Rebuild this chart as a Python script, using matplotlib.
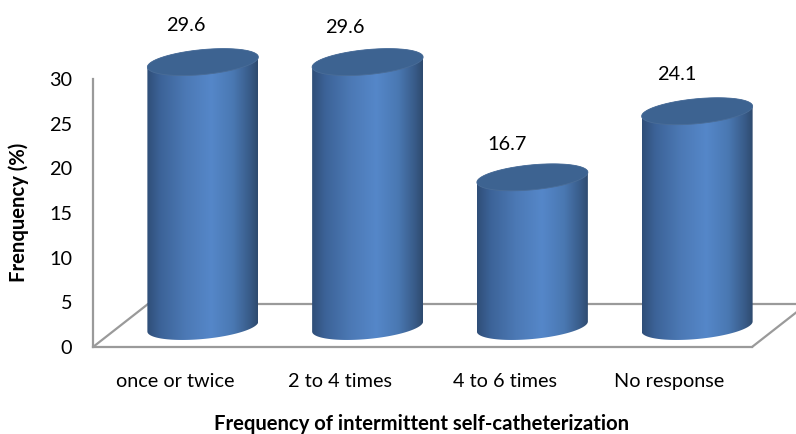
import numpy as np
import matplotlib
matplotlib.use("Agg")
import matplotlib.pyplot as plt
from matplotlib.colors import LinearSegmentedColormap
from matplotlib.patches import Polygon

categories = ["once or twice", "2 to 4 times", "4 to 6 times", "No response"]
frequency = [29.6, 29.6, 16.7, 24.1]
y_ticks = [0, 5, 10, 15, 20, 25, 30]

# Label nudges in pixels relative to each bar's category slot and value
label_nudge_x = [10, 5, 2, 7]
label_nudge_y = [57, 55, 53, 57]

W, H = 796, 434
LEFT, RIGHT, BOTTOM, TOP = 93, 752, 347, 79
GREY = "#9a9a9a"
FONT = "Lato"
TEXT_SIZE = 14.3
TITLE_SIZE = 14.6

fig = plt.figure(figsize=(W / 100, H / 100), dpi=100)
ax = fig.add_axes([LEFT / W, 1 - BOTTOM / H, (RIGHT - LEFT) / W, (BOTTOM - TOP) / H])

px_x = (RIGHT - LEFT) / 4          # pixels per category
px_y = (BOTTOM - TOP) / 30         # pixels per percent

# Oblique floor depth, in data units
depth_x = 55 / px_x
depth_y = 43 / px_y
half_w = 55.5 / px_x
tilt = 5 / px_y
minor = 12.5 / px_y

x_left, x_right = -0.5, 3.5
for xs, ys in [
    ([x_left, x_left + depth_x], [0, depth_y]),
    ([x_right, x_right + depth_x], [0, depth_y]),
    ([x_left + depth_x, x_right + depth_x], [depth_y, depth_y]),
]:
    ax.plot(xs, ys, color=GREY, lw=1.6, clip_on=False, zorder=1, solid_capstyle="round")

cylinder = LinearSegmentedColormap.from_list(
    "cylinder",
    [(0.0, "#2f4e78"), (0.12, "#3c6398"), (0.35, "#4c79b5"),
     (0.58, "#5587c9"), (0.78, "#4a78b2"), (0.93, "#385b88"), (1.0, "#2e4a6e")],
)
shade = np.linspace(0, 1, 256).reshape(1, -1)
t = np.linspace(0, np.pi, 80)

for i, value in enumerate(frequency):
    cx = i + depth_x / 2
    base = depth_y / 2 - 1 / px_y
    top = base + value

    # Side wall: upper arc along the top rim, lower arc along the base rim
    top_arc_x = cx + half_w * np.cos(t)
    top_arc_y = top + tilt * np.cos(t) + minor * np.sin(t)
    low_arc_x = cx + half_w * np.cos(t + np.pi)
    low_arc_y = base + tilt * np.cos(t + np.pi) + minor * np.sin(t + np.pi)
    outline = np.column_stack([np.r_[top_arc_x, low_arc_x], np.r_[top_arc_y, low_arc_y]])
    body = Polygon(outline, closed=True, transform=ax.transData, fc="none", ec="none")
    ax.add_patch(body)
    im = ax.imshow(shade, cmap=cylinder, aspect="auto", zorder=2,
                   extent=(cx - half_w, cx + half_w, base - 3, top + 3))
    im.set_clip_box(fig.bbox)
    im.set_clip_path(body)

    # Top face of the cylinder
    tt = np.linspace(0, 2 * np.pi, 160)
    cap = np.column_stack([cx + half_w * np.cos(tt),
                           top + tilt * np.cos(tt) + minor * np.sin(tt)])
    ax.add_patch(Polygon(cap, closed=True, fc="#3d6391", ec="#4a6d98", lw=0.6,
                         zorder=3, clip_on=False))

    ax.annotate(f"{value:.1f}", xy=(i, value),
                xytext=(label_nudge_x[i] * 0.72, label_nudge_y[i] * 0.72),
                textcoords="offset points", ha="center", va="center",
                fontsize=TEXT_SIZE, family=FONT, color="black", annotation_clip=False, zorder=5)

ax.set_xlim(x_left, x_right)
ax.set_ylim(0, 30)
ax.set_xticks(range(len(categories)), categories)
ax.set_yticks(y_ticks)
ax.tick_params(axis="both", length=0, labelsize=TEXT_SIZE, labelcolor="black")
ax.tick_params(axis="x", pad=19)
ax.tick_params(axis="y", pad=15)
for label in ax.get_xticklabels() + ax.get_yticklabels():
    label.set_family(FONT)

for side in ("top", "right"):
    ax.spines[side].set_visible(False)
for side in ("left", "bottom"):
    ax.spines[side].set_color(GREY)
    ax.spines[side].set_linewidth(1.6)
ax.patch.set_alpha(0)

fig.text(422 / W, 1 - 424 / H, "Frequency of intermittent self-catheterization",
         ha="center", va="center", fontsize=TITLE_SIZE, fontweight="bold", family=FONT)
fig.text(19 / W, 1 - 212 / H, "Frenquency (%)", rotation=90,
         ha="center", va="center", fontsize=TITLE_SIZE, fontweight="bold", family=FONT)

fig.savefig("out.png", dpi=100, facecolor="white")
